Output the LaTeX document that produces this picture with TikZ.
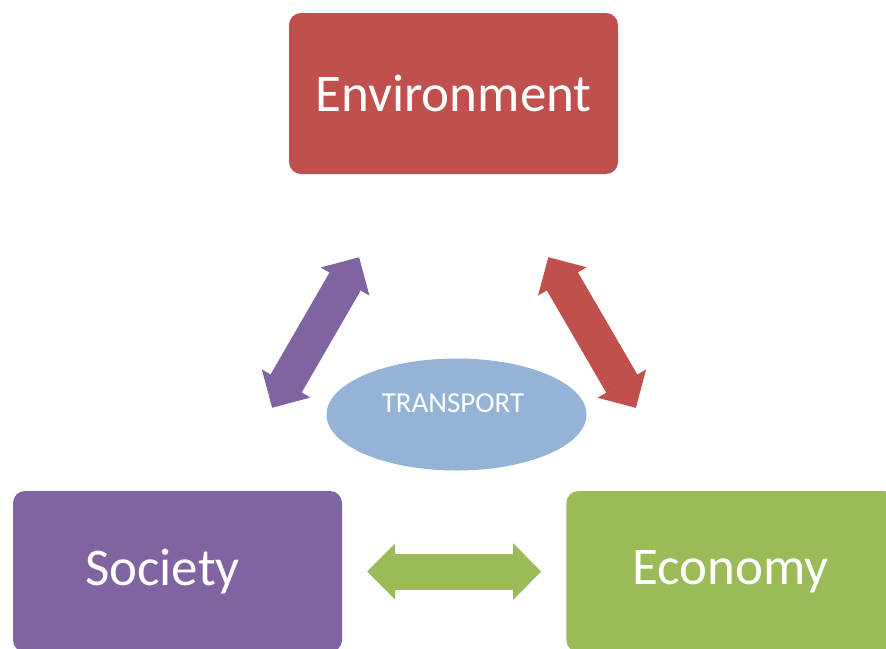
\documentclass[tikz,border=0pt]{standalone}
\usepackage{fontspec}
\setmainfont{Carlito}
\definecolor{envred}{HTML}{C0504D}
\definecolor{socpurple}{HTML}{8064A2}
\definecolor{ecogreen}{HTML}{9BBB59}
\definecolor{hubblue}{HTML}{95B3D7}
\usetikzlibrary{shapes,arrows.meta,positioning}

\begin{document}
\begin{tikzpicture}[
    x=1pt, y=-1pt,
    pillar/.style={rectangle, rounded corners=12pt, minimum width=329pt, minimum height=161pt, inner sep=0pt, fill=#1, text=white, font=\fontsize{53pt}{60pt}\selectfont},
    hub/.style={ellipse, minimum width=260pt, minimum height=112pt, inner sep=0pt, fill=hubblue, text=white, text height=18.7pt, text depth=22.3pt, font=\fontsize{29pt}{34pt}\selectfont},
    twoway/.style={draw=#1, line width=36pt, >={Triangle[width=56pt, length=28pt, line width=1pt]}, <->}
]
\useasboundingbox (0,0) rectangle (886,648);

\node[pillar=envred] (env) at (453.5,93.5) {Environment};
\node[pillar=socpurple] (soc) at (177.5,571.5) {Society\rule{30pt}{0pt}};
\node[pillar=ecogreen, right=224pt of soc] (eco) {Economy};
\node[hub] (transport) at (456.5,414.5) {TRANSPORT\rule{7pt}{0pt}};

\draw[twoway=socpurple, shorten <=96pt, shorten >=96pt] (env) -- (soc);
\draw[twoway=envred, shorten <=96pt, shorten >=96pt] (env) -- (eco);
\draw[twoway=ecogreen, shorten <=25pt, shorten >=25pt] (soc) -- (eco);

\end{tikzpicture}
\end{document}
